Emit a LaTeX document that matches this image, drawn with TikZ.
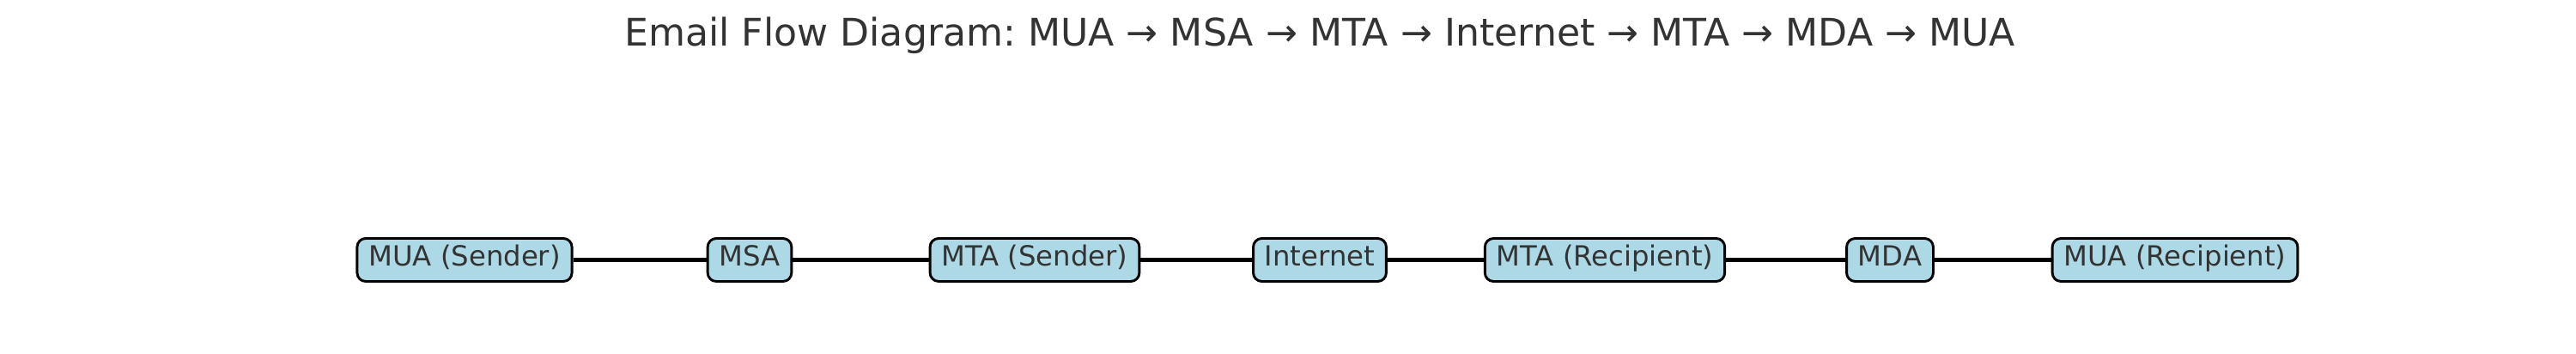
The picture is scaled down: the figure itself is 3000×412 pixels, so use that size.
\documentclass[tikz,border=0pt]{standalone}
\usepackage{fontspec}
\setmainfont{DejaVu Sans}
\usepackage{xcolor}
\usepackage{tikz}
\frenchspacing

\definecolor{boxblue}{HTML}{ADD8E6}
\definecolor{textgray}{HTML}{333333}

\tikzset{
	stage/.style={draw, line width=0.7pt, rounded corners=2.4pt, fill=boxblue, text=textgray,
		font=\fontsize{7.75}{9}\selectfont, inner xsep=3.2pt, inner ysep=0pt,
		minimum height=12pt, text height=5.1pt, text depth=1.9pt},
	link/.style={line width=1.1pt, black}
}

\begin{document}
\begin{tikzpicture}[x=0.24pt, y=-0.24pt]
		\useasboundingbox (0, 0) rectangle (3000, 412);
		\node[anchor=base, text=textgray, font=\fontsize{10.6}{12}\selectfont] (title) at (1537, 54)
			{Email Flow Diagram: MUA → MSA → MTA → Internet → MTA → MDA → MUA};
		\node[stage] (muasender) at (541, 302.5) {MUA (Sender)};
		\node[stage] (msa) at (873, 302.5) {MSA};
		\node[stage] (mtasender) at (1205, 302.5) {MTA (Sender)};
		\node[stage] (internet) at (1537, 302.5) {Internet};
		\node[stage] (mtarecipient) at (1869, 302.5) {MTA (Recipient)};
		\node[stage] (mda) at (2201, 302.5) {MDA};
		\node[stage] (muarecipient) at (2533, 302.5) {MUA (Recipient)};
		\draw[link] (muasender) -- (msa);
		\draw[link] (msa) -- (mtasender);
		\draw[link] (mtasender) -- (internet);
		\draw[link] (internet) -- (mtarecipient);
		\draw[link] (mtarecipient) -- (mda);
		\draw[link] (mda) -- (muarecipient);
	\end{tikzpicture}
\end{document}
